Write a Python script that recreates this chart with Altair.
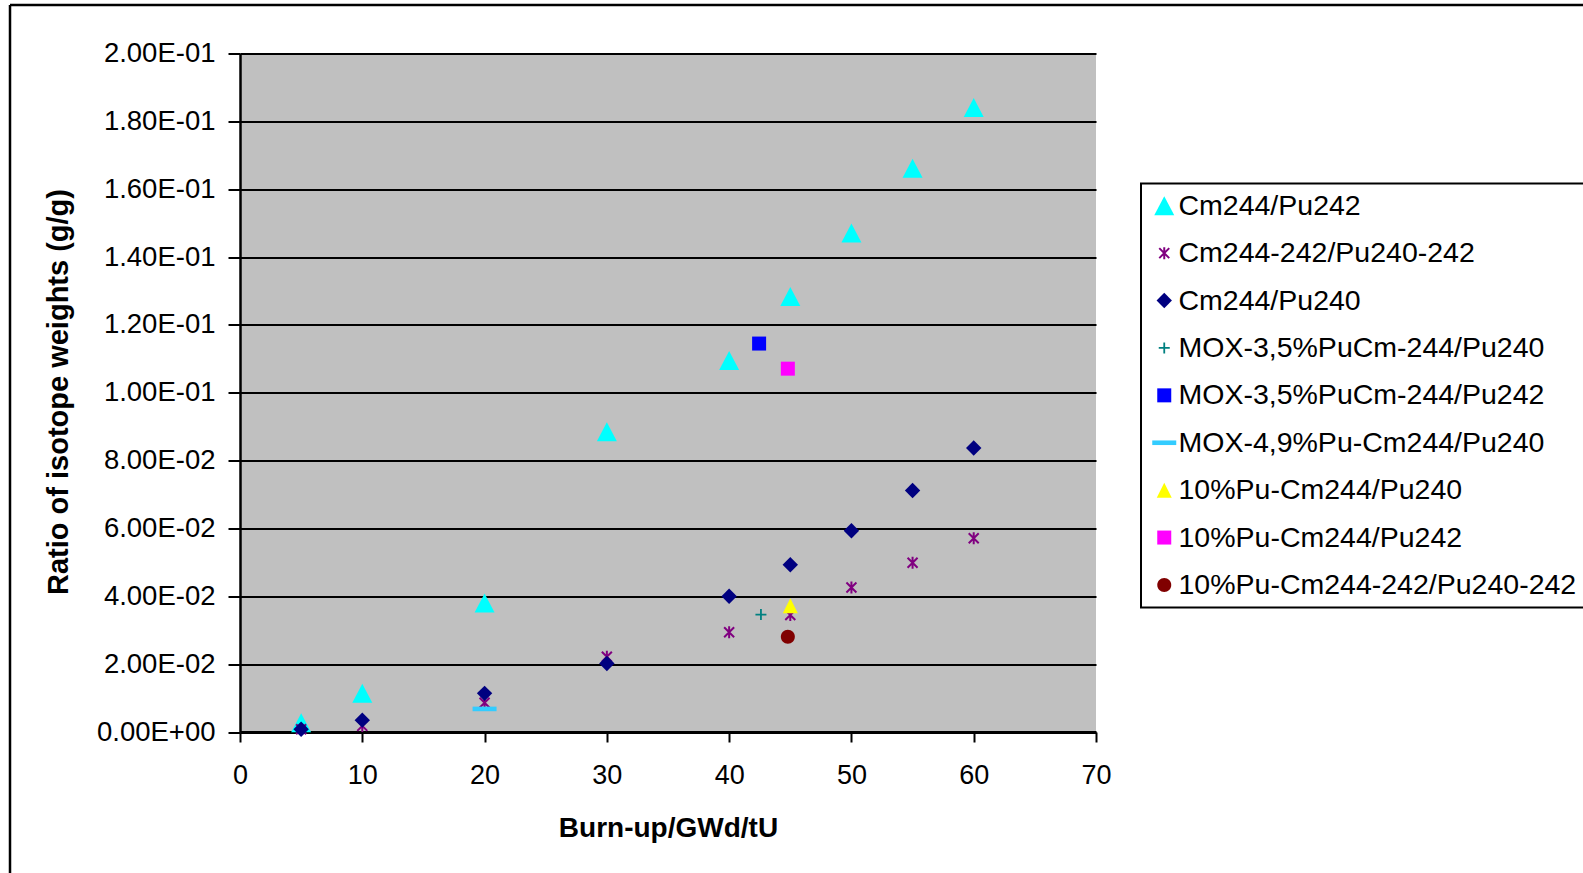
import altair as alt
import pandas as pd

# ---- data ----
burnup = [5, 10, 20, 30, 40, 45, 50, 55, 60]
cm244_pu242 = [0.0027, 0.0114, 0.0380, 0.0885, 0.1095, 0.1284, 0.1471, 0.1662, 0.1841]
cm244_242_pu240_242 = [0.0008, 0.0018, 0.0086, 0.0222, 0.0294, 0.0345, 0.0426, 0.0499, 0.0571]
cm244_pu240 = [0.0008, 0.0035, 0.0114, 0.0202, 0.0400, 0.0493, 0.0593, 0.0712, 0.0837]

mox35_pu240_x = [42.6]
mox35_pu240_y = [0.0346]
mox35_pu242_x = [42.45]
mox35_pu242_y = [0.1145]
mox49_pu240_x = [20]
mox49_pu240_y = [0.0068]
pu10_pu240_x = [45]
pu10_pu240_y = [0.0372]
pu10_pu242_x = [44.8]
pu10_pu242_y = [0.1071]
pu10_242_x = [44.8]
pu10_242_y = [0.0281]

series_names = [
    "Cm244/Pu242",
    "Cm244-242/Pu240-242",
    "Cm244/Pu240",
    "MOX-3,5%PuCm-244/Pu240",
    "MOX-3,5%PuCm-244/Pu242",
    "MOX-4,9%Pu-Cm244/Pu240",
    "10%Pu-Cm244/Pu240",
    "10%Pu-Cm244/Pu242",
    "10%Pu-Cm244-242/Pu240-242",
]
series_colors = ["#00FFFF", "#800080", "#000080", "#008080", "#0000FF",
                 "#33CCFF", "#FFFF00", "#FF00FF", "#800000"]

x_tick_values = [0, 10, 20, 30, 40, 50, 60, 70]
y_tick_values = [0.0, 0.02, 0.04, 0.06, 0.08, 0.10, 0.12, 0.14, 0.16, 0.18, 0.20]
y_tick_labels = ["0.00E+00", "2.00E-02", "4.00E-02", "6.00E-02", "8.00E-02", "1.00E-01",
                 "1.20E-01", "1.40E-01", "1.60E-01", "1.80E-01", "2.00E-01"]

# marker outlines (pixel units at size 4)
shape_paths = [
    "M0,-9.5L10,9.5L-10,9.5Z",
    "M-1,-6L1,-6L1,6L-1,6Z M-4.3,-5.7L5.7,4.3L4.3,5.7L-5.7,-4.3Z M5.7,-4.3L-4.3,5.7L-5.7,4.3L4.3,-5.7Z",
    "M0,-7.7L7.7,0L0,7.7L-7.7,0Z",
    "M-5.5,-0.9L5.5,-0.9L5.5,0.9L-5.5,0.9Z M-0.9,-5.5L0.9,-5.5L0.9,5.5L-0.9,5.5Z",
    "M-7,-7L7,-7L7,7L-7,7Z",
    "M-12,-2.3L12,-2.3L12,2.3L-12,2.3Z",
    "M0,-7.5L7.5,7.5L-7.5,7.5Z",
    "M-7,-7L7,-7L7,7L-7,7Z",
    "M7,0A7,7 0 1,1 -7,0A7,7 0 1,1 7,0Z",
]

# ---- build long table ----
series_data = [
    (burnup, cm244_pu242),
    (burnup, cm244_242_pu240_242),
    (burnup, cm244_pu240),
    (mox35_pu240_x, mox35_pu240_y),
    (mox35_pu242_x, mox35_pu242_y),
    (mox49_pu240_x, mox49_pu240_y),
    (pu10_pu240_x, pu10_pu240_y),
    (pu10_pu242_x, pu10_pu242_y),
    (pu10_242_x, pu10_242_y),
]
rows = []
k = 0
for name, (xs, ys) in zip(series_names, series_data):
    for xv, yv in zip(xs, ys):
        rows.append({"series": name, "burnup": xv, "ratio": yv, "idx": k})
        k += 1
df = pd.DataFrame(rows)

FONT = "Liberation Sans, Arial, sans-serif"
label_expr = "[" + ",".join("'%s'" % s for s in y_tick_labels) + "][round(datum.value / 0.02)]"

legend = alt.Legend(
    title=None, orient="none", legendX=901, legendY=130,
    strokeColor="black", fillColor="white", padding=8,
    labelFont=FONT, labelFontSize=28.5, labelColor="black", labelLimit=600,
    rowPadding=18.4, symbolSize=4, symbolStrokeWidth=0, symbolOffset=1,
    labelOffset=0,
)

points = alt.Chart(df).mark_point(filled=True, opacity=1, size=4, strokeWidth=0).encode(
    x=alt.X("burnup:Q",
            scale=alt.Scale(domain=[0, 70], nice=False, zero=False),
            axis=alt.Axis(values=x_tick_values, title="Burn-up/GWd/tU", grid=False,
                          labelFont=FONT, labelFontSize=27, labelColor="black",
                          labelPadding=20, labelFlush=False, labelOverlap=False, labelAngle=0,
                          tickColor="black", tickWidth=2, tickSize=10,
                          domainColor="black", domainWidth=3,
                          titleFont=FONT, titleFontSize=28, titleFontWeight="bold",
                          titleColor="black", titleX=428, titleY=96,
                          titleAlign="center", titleBaseline="middle")),
    y=alt.Y("ratio:Q",
            scale=alt.Scale(domain=[0, 0.2], nice=False),
            axis=alt.Axis(values=y_tick_values, labelExpr=label_expr,
                          title="Ratio of isotope weights (g/g)",
                          grid=True, gridColor="black", gridWidth=2, gridOpacity=1,
                          labelFont=FONT, labelFontSize=27.5, labelColor="black",
                          labelPadding=13, labelOverlap=False, labelFlush=False,
                          tickColor="black", tickWidth=2, tickSize=12,
                          domainColor="black", domainWidth=2.5,
                          titleFont=FONT, titleFontSize=29, titleFontWeight="bold",
                          titleColor="black", titleX=-182, titleY=338, titleAngle=270,
                          titleAlign="center", titleBaseline="middle")),
    color=alt.Color("series:N", scale=alt.Scale(domain=series_names, range=series_colors),
                    legend=legend),
    shape=alt.Shape("series:N", scale=alt.Scale(domain=series_names, range=shape_paths),
                    legend=legend),
    order=alt.Order("idx:Q"),
)

one = pd.DataFrame({"a": [0]})
frame_top = alt.Chart(one).mark_rule(color="black", strokeWidth=2.5).encode(
    x=alt.value(-230), x2=alt.value(1400), y=alt.value(-48.5))
frame_left = alt.Chart(one).mark_rule(color="black", strokeWidth=2.5).encode(
    x=alt.value(-230), y=alt.value(-48.5), y2=alt.value(900))

chart = alt.layer(frame_top, frame_left, points).properties(
    width=856, height=678.5,
    autosize=alt.AutoSizeParams(type="none"),
    padding={"left": 240, "top": 53.5, "right": 487, "bottom": 141.5},
    background="white",
).configure_view(fill="#C0C0C0", strokeWidth=0).configure_legend(strokeWidth=2)

chart.save("out.html", embed_options={"renderer": "svg", "actions": False})
